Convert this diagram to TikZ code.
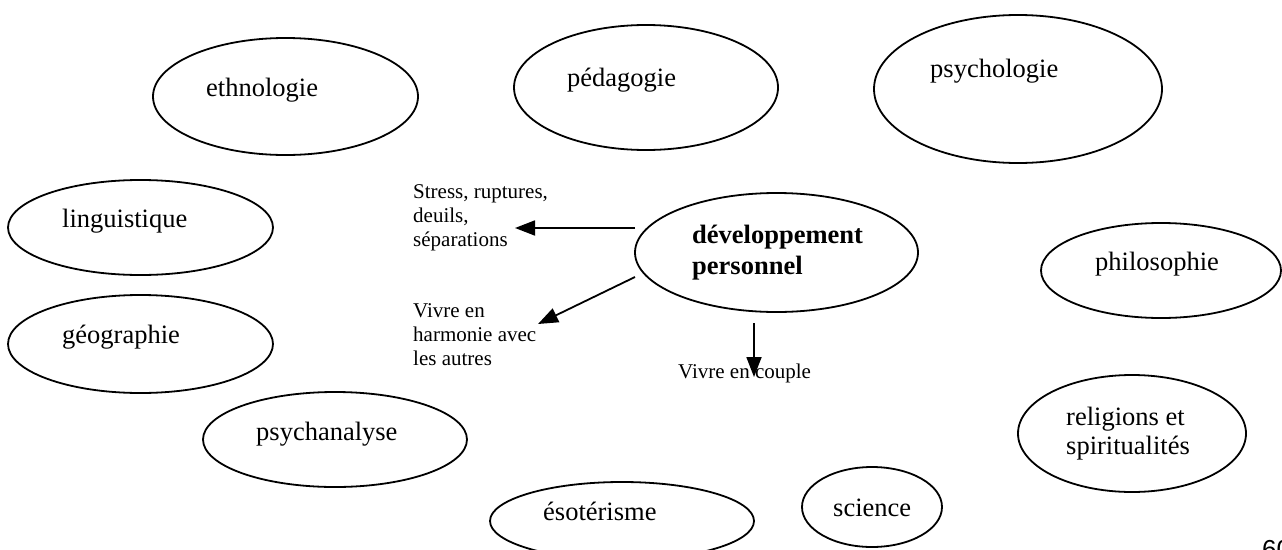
\documentclass[tikz,border=0pt]{standalone}
\usepackage{fontspec}
\setmainfont{Liberation Serif}
\newfontfamily\pagenumfont{Liberation Sans}
\usetikzlibrary{arrows.meta,shapes.geometric}

% multi-line text block whose baseline is the first line
\newcommand{\firstlinestack}[1]{\begin{tabular}[t]{@{}l@{}}#1\end{tabular}}

\begin{document}
\begin{tikzpicture}[x=1pt,y=-1pt,
  field/.style={draw, ellipse, line width=1.8pt, inner sep=0pt},
  fieldlabel/.style={anchor=base west, inner sep=0pt, font=\fontsize{26.5}{30}\selectfont},
  notelabel/.style={anchor=base west, inner sep=0pt, font=\fontsize{21}{24}\selectfont},
  link/.style={line width=1.8pt, -{Triangle[length=20pt,width=15pt]}}]
\clip (0,0) rectangle (1282,549);
\fill[white] (0,0) rectangle (1282,549);

% the surrounding disciplines
\node[field, minimum width=265pt, minimum height=117pt] (ethno) at (285.5,96.5) {};
\node[field, minimum width=264pt, minimum height=125pt] (peda)  at (646,87.5) {};
\node[field, minimum width=288pt, minimum height=148pt] (psycho) at (1018,89) {};
\node[field, minimum width=265pt, minimum height=95pt]  (ling)  at (140.5,227.5) {};
\node[field, minimum width=265pt, minimum height=98pt]  (geo)   at (140.5,344) {};
\node[field, minimum width=264pt, minimum height=95pt]  (psyan) at (335,439.5) {};
\node[field, minimum width=264pt, minimum height=78pt]  (eso)   at (622,521) {};
\node[field, minimum width=140pt, minimum height=80pt]  (sci)   at (872,507) {};
\node[field, minimum width=228pt, minimum height=117pt] (rel)   at (1132,433.5) {};
\node[field, minimum width=240pt, minimum height=95pt]  (philo) at (1161,270.5) {};
\node[field, minimum width=283pt, minimum height=119pt] (dev)   at (776.5,252.5) {};

% their names
\node[fieldlabel] (t-ethno)  at (206,96)    {ethnologie};
\node[fieldlabel] (t-peda)   at (567,86)    {pédagogie};
\node[fieldlabel] (t-psycho) at (930,77)    {psychologie};
\node[fieldlabel] (t-ling)   at (62,227)    {linguistique};
\node[fieldlabel] (t-geo)    at (62,343)    {géographie};
\node[fieldlabel] (t-psyan)  at (256,440)   {psychanalyse};
\node[fieldlabel] (t-eso)    at (543,520)   {ésotérisme};
\node[fieldlabel] (t-sci)    at (833,516)   {science};
\node[fieldlabel, font=\fontsize{26.5}{29}\selectfont] (t-rel) at (1066,425)
  {\firstlinestack{religions et\\spiritualités}};
\node[fieldlabel] (t-philo)  at (1095,270) {philosophie};
\node[fieldlabel, font=\fontsize{26.5}{31.5}\selectfont\bfseries] (t-dev) at (692,243)
  {\firstlinestack{développement\\personnel}};

% outcomes
\node[notelabel] (stress) at (413,198)
  {\firstlinestack{Stress, ruptures,\\deuils,\\séparations}};
\node[notelabel] (harmonie) at (413,317)
  {\firstlinestack{Vivre en\\harmonie avec\\les autres}};
\node[notelabel] (couple) at (678,378) {Vivre en couple};

% arrow ends
\coordinate (s-stress) at (635,228);
\coordinate (e-stress) at (515,228);
\coordinate (s-harm)   at (635,277);
\coordinate (e-harm)   at (538,324);
\coordinate (s-couple) at (754,323);
\coordinate (e-couple) at (754,377);

\draw[link] (s-stress) -- (e-stress);
\draw[link] (s-harm) -- (e-harm);
\draw[link] (s-couple) -- (e-couple);

% page number
\node[anchor=base west, inner sep=0pt, font=\pagenumfont\fontsize{26}{30}\selectfont] (pagenum) at (1262,558) {60};
\end{tikzpicture}
\end{document}
